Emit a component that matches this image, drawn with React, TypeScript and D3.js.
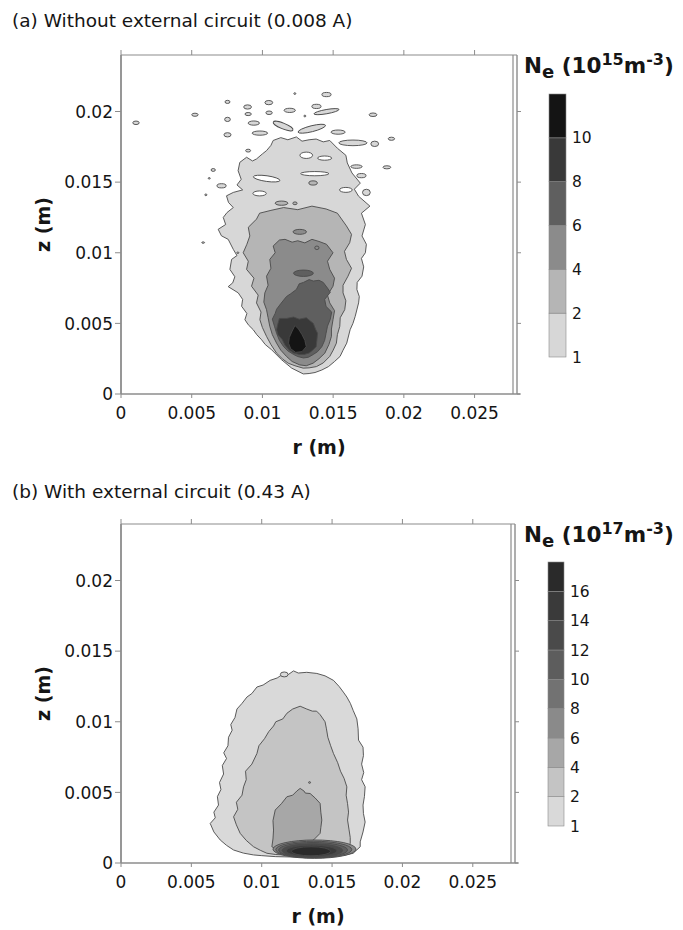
import React from "react";
import * as d3 from "d3";

type P = [number, number];
type E = number[]; // [r(mm), z(mm), width(mm), height(mm), angle(deg)?]

// ---------- axes ----------
const R_TICKS = [0, 0.005, 0.01, 0.015, 0.02, 0.025];
const R_TICK_LABELS = ["0", "0.005", "0.01", "0.015", "0.02", "0.025"];
const Z_TICKS = [0, 0.005, 0.01, 0.015, 0.02];
const Z_TICK_LABELS = ["0", "0.005", "0.01", "0.015", "0.02"];
const R_MAX = 0.028;
const Z_MAX = 0.024;
const MM = 0.001;

// ---------- panel (a) ----------
const A_TITLE = "(a) Without external circuit (0.008 A)";
const A_EXP = "15";
const A_LEVEL_LABELS = ["1", "2", "4", "6", "8", "10", ""];
const A_COLORS = ["#d7d7d7", "#b5b5b5", "#8b8b8b", "#5f5f5f", "#393939", "#141414"];

const A_L1: P[] = [
  [12.89, 1.42], [12.07, 1.83], [11.36, 2.42], [10.65, 3.13], [10.2, 3.5], [9.94, 3.84], [9.6, 4.2], [9.35, 4.55],
  [9.0, 4.9], [8.76, 5.26], [8.9, 5.7], [8.53, 6.21], [8.6, 6.7], [8.29, 7.16], [7.58, 7.6], [7.9, 7.87], [8.05, 8.3],
  [7.7, 8.82], [7.82, 9.53], [8.2, 9.8], [7.94, 10.24], [7.58, 10.95], [7.1, 11.2], [6.87, 11.66], [7.4, 12.0],
  [7.23, 12.5], [7.5, 12.85], [7.94, 13.2], [7.6, 13.56], [7.46, 14.03], [7.94, 14.27], [8.6, 14.45], [8.2, 14.8],
  [8.5, 15.2], [8.28, 15.81], [8.4, 16.4], [8.88, 16.76], [9.3, 16.5], [9.58, 16.64], [10.0, 17.0], [10.29, 17.23],
  [10.6, 17.6], [10.76, 17.95], [11.3, 18.15], [11.8, 18.0], [12.4, 18.2], [12.8, 17.9], [13.3, 18.0], [13.8, 18.05],
  [14.3, 17.85], [14.76, 17.95], [15.3, 17.4], [15.9, 16.9], [16.0, 16.36], [16.33, 15.65], [16.92, 14.93],
  [16.5, 14.5], [16.8, 14.0], [17.6, 13.3], [17.0, 12.8], [17.28, 12.0], [17.04, 11.19], [17.35, 10.6], [17.28, 10.0],
  [17.0, 9.6], [17.16, 9.0], [17.04, 8.34], [16.7, 7.9], [16.68, 7.4], [16.85, 6.9], [16.8, 6.45], [16.56, 5.5],
  [16.4, 5.0], [16.2, 4.55], [15.96, 3.6], [15.7, 3.1], [15.49, 2.66], [15.1, 2.3], [14.67, 1.94], [14.2, 1.7],
  [13.72, 1.52], [13.3, 1.45],
];
const A_L2: P[] = [
  [12.88, 1.83], [12.3, 2.0], [11.82, 2.18], [11.4, 2.5], [11.0, 2.89], [10.6, 3.5], [10.29, 4.08], [10.0, 4.7],
  [9.82, 5.26], [9.9, 5.8], [9.58, 6.45], [9.7, 7.0], [9.23, 7.63], [9.4, 8.2], [8.88, 8.82], [9.0, 9.4], [8.64, 10.0],
  [8.9, 10.6], [9.11, 11.19], [9.0, 11.8], [9.58, 12.38], [9.8, 12.8], [10.6, 13.0], [11.5, 13.2], [12.5, 13.05],
  [13.5, 13.3], [14.5, 13.1], [15.3, 12.8], [15.94, 11.9], [16.3, 11.3], [16.17, 10.71], [15.8, 10.1], [15.94, 9.53],
  [16.3, 8.9], [16.05, 8.34], [15.7, 7.7], [15.7, 7.16], [15.9, 6.6], [15.82, 5.97], [15.5, 5.4], [15.47, 4.79],
  [15.3, 4.2], [15.23, 3.6], [15.0, 3.1], [14.76, 2.66], [14.3, 2.2], [13.82, 1.94], [13.3, 1.85],
];
const A_L4: P[] = [
  [12.64, 2.06], [12.1, 2.3], [11.7, 2.66], [11.3, 3.1], [11.0, 3.6], [10.7, 4.2], [10.52, 4.79], [10.4, 5.4],
  [10.29, 5.97], [10.1, 6.5], [10.17, 7.16], [10.4, 7.7], [10.29, 8.34], [10.6, 8.9], [10.52, 9.53], [10.9, 10.0],
  [10.76, 10.48], [11.2, 10.9], [11.6, 10.95], [12.1, 10.75], [12.5, 10.85], [13.0, 10.7], [13.5, 10.95], [14.0, 10.8],
  [14.53, 10.6], [14.99, 10.0], [14.6, 9.4], [14.76, 8.82], [15.1, 8.2], [14.99, 7.63], [14.6, 7.0], [14.76, 6.45],
  [15.1, 5.9], [14.99, 5.26], [14.88, 4.6], [14.88, 4.08], [14.7, 3.5], [14.41, 2.89], [14.0, 2.5], [13.58, 2.18],
  [13.1, 2.0],
];
const A_L6: P[] = [
  [12.9, 2.55], [12.5, 2.65], [12.2, 2.8], [11.8, 3.05], [11.5, 3.35], [11.2, 3.8], [11.0, 4.3], [10.85, 4.8],
  [10.7, 5.3], [10.9, 5.7], [11.0, 6.0], [11.3, 6.4], [11.7, 6.9], [12.0, 7.1], [12.4, 7.4], [12.6, 7.8], [12.9, 7.9],
  [13.3, 8.1], [13.6, 8.0], [14.0, 8.05], [14.3, 7.9], [14.6, 7.5], [14.8, 7.2], [14.4, 6.7], [14.5, 6.2], [14.9, 5.8],
  [14.8, 5.3], [14.6, 4.8], [14.5, 4.3], [14.4, 3.8], [14.2, 3.35], [13.9, 3.0], [13.6, 2.8], [13.25, 2.6],
];
const A_L8: P[] = [
  [12.6, 2.8], [12.2, 2.9], [11.9, 3.1], [11.6, 3.45], [11.4, 3.85], [11.1, 4.2], [11.0, 4.55], [11.1, 5.0],
  [11.2, 5.35], [11.7, 5.35], [12.2, 5.45], [12.6, 5.3], [13.1, 5.4], [13.6, 5.0], [13.75, 4.6], [13.9, 4.3],
  [13.85, 3.8], [13.8, 3.35], [13.55, 3.1], [13.3, 2.9], [12.95, 2.8],
];
const A_L10: P[] = [
  [12.35, 2.95], [12.0, 3.2], [11.85, 3.6], [11.9, 4.0], [12.1, 4.45], [12.3, 4.85], [12.55, 4.6], [12.8, 4.2],
  [13.0, 3.8], [13.1, 3.35], [12.8, 3.0],
];
const A_L1_ISLANDS: E[] = [
  [1.06, 19.2, 0.45, 0.25], [5.23, 19.77, 0.45, 0.22], [7.53, 20.68, 0.35, 0.22], [8.95, 20.32, 0.55, 0.3],
  [10.45, 20.63, 0.55, 0.3], [12.29, 21.27, 0.14, 0.12], [14.53, 21.2, 0.65, 0.3], [13.82, 20.36, 0.65, 0.3],
  [11.93, 20.08, 0.8, 0.3], [10.47, 19.91, 0.45, 0.25], [8.99, 19.82, 0.45, 0.22], [7.53, 19.44, 0.4, 0.3],
  [7.53, 18.35, 0.5, 0.3], [9.39, 19.18, 0.8, 0.3], [9.82, 18.47, 1.1, 0.3], [11.46, 18.97, 1.5, 0.4, 22],
  [13.49, 18.78, 2.0, 0.42, -14], [14.53, 19.99, 1.8, 0.3, -10], [15.35, 18.54, 1.0, 0.3], [17.82, 19.77, 0.55, 0.25],
  [19.12, 18.07, 0.45, 0.22], [16.4, 17.78, 2.0, 0.4], [17.94, 17.71, 0.55, 0.38], [16.65, 16.1, 0.8, 0.25],
  [17.0, 15.46, 0.65, 0.3], [17.35, 14.27, 0.55, 0.45], [18.8, 16.05, 0.55, 0.22], [6.52, 15.86, 0.3, 0.2],
  [6.24, 15.27, 0.15, 0.1], [7.11, 14.74, 0.65, 0.3], [6.0, 14.1, 0.15, 0.12], [8.99, 17.23, 0.35, 0.2],
  [13.0, 19.68, 0.14, 0.12], [5.81, 10.72, 0.2, 0.1], [8.26, 10.0, 0.15, 0.1],
];
const A_HOLES: E[] = [
  [13.1, 16.9, 0.9, 0.45], [14.4, 16.7, 1.0, 0.3], [13.7, 15.6, 2.0, 0.3], [9.8, 14.2, 0.95, 0.35],
  [10.3, 15.25, 1.9, 0.4, 8], [15.9, 14.45, 0.9, 0.35],
];
const A_L2_BLOBS: E[] = [[13.58, 14.94, 0.6, 0.3], [11.35, 13.51, 0.9, 0.3], [12.3, 13.5, 0.3, 0.2]];
const A_L4_BLOBS: E[] = [[12.64, 11.48, 0.95, 0.35], [13.85, 10.35, 0.3, 0.25]];
const A_L6_BLOBS: E[] = [[12.9, 8.55, 1.4, 0.45]];

// ---------- panel (b) ----------
const B_TITLE = "(b) With external circuit (0.43 A)";
const B_EXP = "17";
const B_LEVEL_LABELS = ["1", "2", "4", "6", "8", "10", "12", "14", "16", ""];
const B_COLORS = ["#d9d9d9", "#c4c4c4", "#a7a7a7", "#8a8a8a", "#727272", "#5d5d5d", "#4a4a4a", "#3a3a3a", "#2a2a2a"];

const B_L1: P[] = [
  [10.0, 0.52], [9.42, 0.57], [8.7, 0.7], [8.0, 0.92], [7.5, 1.25], [7.05, 1.63], [6.6, 2.2], [6.34, 2.8], [6.7, 3.2],
  [6.6, 3.6], [6.93, 4.1], [6.85, 4.7], [7.1, 5.2], [7.0, 5.7], [7.29, 6.3], [7.2, 6.9], [7.5, 7.4], [7.3, 7.8],
  [7.6, 8.3], [7.64, 8.9], [7.9, 9.4], [7.8, 9.8], [8.1, 10.3], [8.24, 10.9], [8.6, 11.3], [8.95, 11.75], [9.3, 12.0],
  [9.66, 12.46], [10.1, 12.6], [10.6, 12.93], [11.1, 13.1], [11.4, 13.3], [11.9, 13.35], [12.26, 13.6], [12.6, 13.45],
  [13.2, 13.5], [13.92, 13.42], [14.5, 13.25], [15.1, 12.93], [15.5, 12.5], [15.8, 12.1], [16.05, 11.75], [16.3, 11.3],
  [16.5, 10.8], [16.76, 10.2], [16.85, 9.5], [16.88, 8.7], [17.2, 8.2], [17.23, 7.6], [17.1, 7.0], [17.25, 6.4],
  [17.1, 5.9], [17.35, 5.4], [17.3, 4.7], [17.2, 4.1], [17.23, 3.5], [17.35, 2.9], [17.2, 2.2], [17.0, 1.5],
  [17.0, 1.15], [16.5, 0.69], [15.9, 0.55], [15.0, 0.45], [14.0, 0.42], [12.5, 0.42], [11.0, 0.45],
];
const B_L2: P[] = [
  [11.0, 0.6], [10.37, 0.69], [9.9, 0.9], [9.42, 1.15], [8.9, 1.6], [8.47, 2.1], [8.2, 2.7], [8.0, 3.27], [8.3, 3.8],
  [8.2, 4.3], [8.6, 4.8], [8.71, 5.39], [8.9, 5.9], [8.85, 6.5], [9.3, 7.0], [9.66, 7.75], [9.8, 8.3], [10.2, 8.8],
  [10.5, 9.3], [10.84, 9.7], [11.0, 10.0], [11.5, 10.2], [11.79, 10.6], [12.2, 10.9], [12.73, 11.1], [13.2, 10.9],
  [13.6, 10.75], [13.9, 10.75], [14.15, 10.5], [14.5, 10.0], [14.6, 9.5], [14.7, 8.9], [14.9, 8.3], [15.1, 7.75],
  [15.4, 7.1], [15.6, 6.5], [15.85, 6.0], [16.05, 5.39], [16.0, 4.8], [16.1, 4.2], [16.17, 3.6], [16.1, 3.04],
  [16.2, 2.4], [16.29, 1.8], [16.29, 1.39], [16.0, 0.9], [15.4, 0.6], [14.5, 0.5], [13.0, 0.5], [12.0, 0.55],
];
const B_L4: P[] = [
  [11.5, 0.9], [11.0, 1.0], [10.72, 1.15], [10.8, 1.7], [10.84, 2.33], [10.8, 3.0], [10.96, 3.75], [11.4, 4.2],
  [11.79, 4.69], [12.2, 4.8], [12.5, 5.1], [12.73, 5.28], [13.0, 5.1], [13.1, 4.95], [13.44, 4.92], [13.8, 4.6],
  [14.15, 4.22], [14.2, 3.6], [14.27, 3.04], [14.2, 2.5], [14.15, 2.1], [13.68, 1.63], [13.0, 1.2], [12.2, 1.0],
];
const B_L1_ISLANDS: E[] = [[11.6, 13.35, 0.55, 0.35]];
const B_L4_DOTS: E[] = [[13.4, 5.7, 0.14, 0.12]];
// core hot spot: nested contours for levels 6, 8, 10, 12, 14, 16
const B_CORE_R = [13.75, 13.7, 13.65, 13.6, 13.55, 13.5];
const B_CORE_Z = [0.98, 0.95, 0.92, 0.89, 0.86, 0.83];
const B_CORE_W = [5.9, 5.4, 4.9, 4.3, 3.6, 2.8];
const B_CORE_H = [1.3, 1.18, 1.06, 0.94, 0.8, 0.64];

// ---------- styling ----------
const FONT = "'DejaVu Sans', 'Liberation Sans', sans-serif";
const TXT = "#151515";
const AXIS = "#8c8c8c";
const LINE = "#4a4a4a";

type Geo = { left: number; right: number; top: number; bottom: number };
type Layer = { polys: P[][]; ells: E[]; color: string };

function Panel(props: {
  geo: Geo;
  id: string;
  title: string;
  titleY: number;
  layers: Layer[];
  exp: string;
  colors: string[];
  levelLabels: string[];
  cb: { x0: number; x1: number; top: number; bottom: number };
}) {
  const { geo, id, title, titleY, layers, exp, colors, levelLabels, cb } = props;
  const x = d3.scaleLinear().domain([0, R_MAX]).range([geo.left, geo.right]);
  const y = d3.scaleLinear().domain([0, Z_MAX]).range([geo.bottom, geo.top]);
  const line = d3
    .line<P>()
    .x((d) => x(d[0] * MM))
    .y((d) => y(d[1] * MM))
    .curve(d3.curveLinearClosed);
  const cbY = d3.scaleLinear().domain([0, colors.length]).range([cb.bottom, cb.top]);

  return (
    <g>
      <text x={12} y={titleY} fontFamily={FONT} fontSize={18.5} fill={TXT}>
        {title}
      </text>
      <defs>
        <clipPath id={id}>
          <rect x={geo.left} y={geo.top} width={geo.right - geo.left} height={geo.bottom - geo.top} />
        </clipPath>
      </defs>
      <g clipPath={`url(#${id})`}>
        {layers.map((L, li) => (
          <g key={li} fill={L.color} stroke={LINE} strokeWidth={0.9} strokeLinejoin="round">
            {L.polys.map((p, pi) => (
              <path key={pi} d={line(p) || ""} />
            ))}
            {L.ells.map((e, ei) => {
              const cx = x(e[0] * MM);
              const cy = y(e[1] * MM);
              const rx = (x(e[2] * MM) - x(0)) / 2;
              const ry = (y(0) - y(e[3] * MM)) / 2;
              const a = e[4] || 0;
              return <ellipse key={ei} cx={cx} cy={cy} rx={rx} ry={ry} transform={`rotate(${a},${cx},${cy})`} />;
            })}
          </g>
        ))}
      </g>
      {/* frame */}
      <g stroke={AXIS} fill="none">
        <line x1={geo.left} x2={geo.right} y1={geo.top} y2={geo.top} strokeWidth={1.2} />
        <line x1={geo.left} x2={geo.right + 3} y1={geo.bottom} y2={geo.bottom} strokeWidth={1.6} />
        <line x1={geo.left} x2={geo.left} y1={geo.top} y2={geo.bottom} strokeWidth={1.8} />
        <line x1={geo.right - 4} x2={geo.right - 4} y1={geo.top} y2={geo.bottom} strokeWidth={1.2} />
        <line x1={geo.right} x2={geo.right} y1={geo.top} y2={geo.bottom} strokeWidth={1.4} />
        {R_TICKS.map((t, i) => (
          <g key={"rt" + i}>
            <line x1={x(t)} x2={x(t)} y1={geo.bottom} y2={geo.bottom + 4} strokeWidth={1} />
            <line x1={x(t)} x2={x(t)} y1={geo.top} y2={geo.top - 5} strokeWidth={1} />
          </g>
        ))}
        {Z_TICKS.map((t, i) => (
          <g key={"zt" + i}>
            <line x1={geo.left - 6} x2={geo.left} y1={y(t)} y2={y(t)} strokeWidth={1} />
            <line x1={geo.right} x2={geo.right + 4} y1={y(t)} y2={y(t)} strokeWidth={1} />
          </g>
        ))}
      </g>
      {/* tick labels */}
      <g fontFamily={FONT} fontSize={17} fill={TXT}>
        {R_TICKS.map((t, i) => (
          <text key={"rl" + i} x={x(t)} y={geo.bottom + 24.5} textAnchor="middle">
            {R_TICK_LABELS[i]}
          </text>
        ))}
        {Z_TICKS.map((t, i) => (
          <text key={"zl" + i} x={geo.left - 8} y={y(t) + 6.2} textAnchor="end">
            {Z_TICK_LABELS[i]}
          </text>
        ))}
      </g>
      {/* axis titles */}
      <text
        x={(geo.left + geo.right) / 2}
        y={geo.bottom + 60}
        textAnchor="middle"
        fontFamily={FONT}
        fontWeight="bold"
        fontSize={19}
        fill={TXT}
      >
        r (m)
      </text>
      <text
        transform={`translate(50,${(geo.top + geo.bottom) / 2}) rotate(-90)`}
        textAnchor="middle"
        fontFamily={FONT}
        fontWeight="bold"
        fontSize={19}
        fill={TXT}
      >
        z (m)
      </text>
      {/* colorbar */}
      <text x={524} y={geo.top + 18} fontFamily={FONT} fontWeight="bold" fontSize={21.5} fill={TXT}>
        N
        <tspan dy={5} fontSize={18}>e</tspan>
        <tspan dy={-5}> (10</tspan>
        <tspan dy={-8} fontSize={16}>{exp}</tspan>
        <tspan dy={8}>m</tspan>
        <tspan dy={-8} fontSize={16}>-3</tspan>
        <tspan dy={8}>)</tspan>
      </text>
      <g>
        {colors.map((c, i) => (
          <rect
            key={"cb" + i}
            x={cb.x0}
            width={cb.x1 - cb.x0}
            y={cbY(i + 1)}
            height={cbY(i) - cbY(i + 1)}
            fill={c}
            stroke="#8a8a8a"
            strokeWidth={0.6}
          />
        ))}
        {levelLabels.map((l, i) =>
          l ? (
            <text key={"cl" + i} x={cb.x1 + 6} y={cbY(i) + 5.5} fontFamily={FONT} fontSize={15.5} fill={TXT}>
              {l}
            </text>
          ) : null
        )}
      </g>
    </g>
  );
}

export default function App() {
  const aLayers: Layer[] = [
    { polys: [A_L1], ells: A_L1_ISLANDS, color: A_COLORS[0] },
    { polys: [], ells: A_HOLES, color: "#ffffff" },
    { polys: [A_L2], ells: A_L2_BLOBS, color: A_COLORS[1] },
    { polys: [A_L4], ells: A_L4_BLOBS, color: A_COLORS[2] },
    { polys: [A_L6], ells: A_L6_BLOBS, color: A_COLORS[3] },
    { polys: [A_L8], ells: [], color: A_COLORS[4] },
    { polys: [A_L10], ells: [], color: A_COLORS[5] },
  ];
  const bLayers: Layer[] = [
    { polys: [B_L1], ells: B_L1_ISLANDS, color: B_COLORS[0] },
    { polys: [B_L2], ells: [], color: B_COLORS[1] },
    { polys: [B_L4], ells: B_L4_DOTS, color: B_COLORS[2] },
    ...B_CORE_R.map((r, i) => ({
      polys: [] as P[][],
      ells: [[r, B_CORE_Z[i], B_CORE_W[i], B_CORE_H[i]]],
      color: B_COLORS[3 + i],
    })),
  ];
  return (
    <svg
      width={683}
      height={930}
      style={{ position: "absolute", left: 0, top: 0, background: "#fff" }}
    >
      <rect width={683} height={930} fill="#fff" />
      <Panel
        geo={{ left: 121, right: 517, top: 55, bottom: 394 }}
        id="clipA"
        title={A_TITLE}
        titleY={27}
        layers={aLayers}
        exp={A_EXP}
        colors={A_COLORS}
        levelLabels={A_LEVEL_LABELS}
        cb={{ x0: 549, x1: 566, top: 94, bottom: 357 }}
      />
      <Panel
        geo={{ left: 121, right: 515, top: 524, bottom: 863 }}
        id="clipB"
        title={B_TITLE}
        titleY={498}
        layers={bLayers}
        exp={B_EXP}
        colors={B_COLORS}
        levelLabels={B_LEVEL_LABELS}
        cb={{ x0: 548, x1: 564, top: 562, bottom: 826 }}
      />
    </svg>
  );
}
